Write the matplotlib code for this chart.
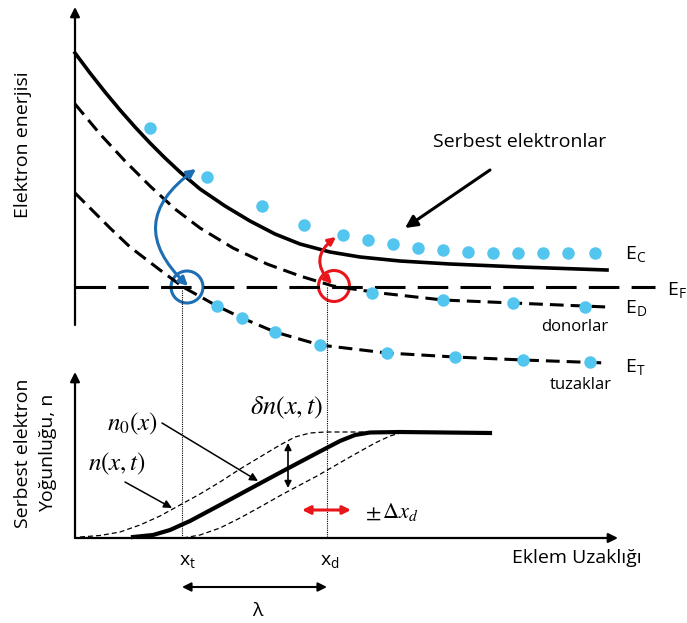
import matplotlib.pyplot as plt
from matplotlib.patches import Circle

# schematic drawn in picture space (x right, y down)
ec_x = [75, 90, 105, 120, 135, 150, 165, 180, 200, 225, 250, 275, 300, 330, 360, 400, 450, 520, 607]
ec_y = [53, 73, 92, 110, 127, 143, 158, 172, 189, 206, 221, 234, 244, 252, 257, 261, 264, 267, 270]
ed_x = [75, 100, 125, 150, 175, 200, 233, 267, 300, 333, 380, 443, 513, 607]
ed_y = [104, 134, 161, 186, 209, 228, 248, 264, 276, 286, 293, 300, 303, 307]
et_x = [75, 110, 130, 160, 183, 217, 242, 275, 320, 387, 455, 523, 607]
et_y = [193, 228, 247, 270, 287, 306, 318, 332, 345, 353, 357, 360, 363]
ef_x = [75, 655]
ef_y = [287, 287]

free_x = [150, 207, 262, 304, 343, 368, 393, 418, 443, 468, 493, 518, 543, 568, 595]
free_y = [128, 177, 206, 225, 235, 240, 244, 248, 250, 252, 253, 253, 253, 253, 253]
donor_x = [372, 443, 513, 585]
donor_y = [293, 300, 303, 307]
trap_x = [217, 242, 275, 320, 387, 455, 523, 590]
trap_y = [306, 318, 332, 345, 353, 357, 360, 362]

n0_x = [133, 153, 170, 190, 220, 257, 283, 317, 340, 355, 370, 400, 490]
n0_y = [537, 535, 530, 521, 505, 485, 471, 453, 441, 435, 432.5, 432, 433]
n_up_x = [80, 100, 120, 140, 160, 180, 200, 220, 240, 260, 280, 295, 310, 325, 383]
n_up_y = [537, 535.5, 532, 525, 516, 505, 494, 482, 469, 457, 445, 437, 433, 432, 432]
n_low_x = [183, 200, 220, 240, 260, 283, 317, 350, 375, 390, 400]
n_low_y = [538, 535, 528, 518, 507, 494, 476, 457, 443, 436, 433]

x_t, x_d = 182, 327

DOT = '#52C6EE'
BLUE = '#1E6EB4'
RED = '#E8161B'

plt.rcParams['font.family'] = ['Open Sans', 'DejaVu Sans']

fig = plt.figure(figsize=(6.87, 6.23), dpi=100)
ax = fig.add_axes([0, 0, 1, 1])
ax.set_xlim(0, 687)
ax.set_ylim(623, 0)
ax.axis('off')


def arrow(p0, p1, color='k', lw=1.5, style='-|>', scale=14, conn='arc3'):
    ax.annotate('', xy=p1, xytext=p0,
                arrowprops=dict(arrowstyle=style, lw=lw, color=color,
                                mutation_scale=scale, shrinkA=0, shrinkB=0,
                                connectionstyle=conn))


def curve(xs, ys, lw, dashes=None):
    line, = ax.plot(xs, ys, color='k', lw=lw, solid_joinstyle='round',
                    dash_joinstyle='round', dash_capstyle='butt')
    if dashes:
        line.set_dashes(dashes)


# ---- upper panel: energy bands
arrow((75, 325), (75, 7), lw=1.6)
curve(ef_x, ef_y, 2.2, (10, 4))
curve(ec_x, ec_y, 2.6)
curve(ed_x, ed_y, 2.2, (4.5, 2.3))
curve(et_x, et_y, 2.2, (4.5, 2.3))

ax.plot(free_x, free_y, 'o', color=DOT, ms=9, mec='none')
ax.plot(donor_x, donor_y, 'o', color=DOT, ms=9, mec='none')
ax.plot(trap_x, trap_y, 'o', color=DOT, ms=9, mec='none')

ax.add_patch(Circle((187, 287), 16, fill=False, ec=BLUE, lw=2.2))
ax.add_patch(Circle((334, 286), 15.5, fill=False, ec=RED, lw=2.2))
arrow((188, 286), (196, 169), color=BLUE, lw=2.2, style='<|-|>', scale=13,
      conn='arc3,rad=-0.6')
arrow((332, 284), (336, 237), color=RED, lw=2.2, style='<|-|>', scale=11,
      conn='arc3,rad=-0.55')

ax.text(520, 142, 'Serbest elektronlar', fontsize=14, ha='center', va='center')
arrow((490, 170), (405, 228), lw=2.2, scale=18)

ax.text(625, 255, r'E$_\mathregular{C}$', fontsize=14, ha='left', va='center')
ax.text(667, 291, r'E$_\mathregular{F}$', fontsize=14, ha='left', va='center')
ax.text(625, 309, r'E$_\mathregular{D}$', fontsize=14, ha='left', va='center')
ax.text(625, 368, r'E$_\mathregular{T}$', fontsize=14, ha='left', va='center')
ax.text(575, 327, 'donorlar', fontsize=12, ha='center', va='center')
ax.text(581, 385, 'tuzaklar', fontsize=12, ha='center', va='center')
ax.text(23, 145, 'Elektron enerjisi', fontsize=14, rotation=90,
        ha='center', va='center')

# ---- lower panel: free electron density
arrow((75, 538), (75, 372), lw=1.6)
arrow((75, 538), (618, 538), lw=1.6)
ax.plot([x_t, x_t], [290, 538], color='k', lw=0.8, dashes=(1, 1))
ax.plot([x_d, x_d], [287, 538], color='k', lw=0.8, dashes=(1, 1))

curve(n_up_x, n_up_y, 0.9, (4, 2.4))
curve(n_low_x, n_low_y, 0.9, (4, 2.4))
curve(n0_x, n0_y, 3)

arrow((288, 443), (288, 488), lw=1.2, style='<|-|>', scale=10)
arrow((302, 510), (351, 510), lw=2.2, color=RED, style='<|-|>', scale=12)
arrow((162, 423), (258, 481), lw=1.1, scale=12)
arrow((125, 482), (172, 508), lw=1.1, scale=12)

ax.text(287, 408, r'$\delta n(x,t)$', fontsize=19, math_fontfamily='stix',
        ha='center', va='center')
ax.text(132, 424, r'$n_0(x)$', fontsize=18, math_fontfamily='stix',
        ha='center', va='center')
ax.text(117, 464, r'$n(x,t)$', fontsize=18, math_fontfamily='stix',
        ha='center', va='center')
ax.text(365, 512, r'$\pm\,\Delta x_d$', fontsize=16, math_fontfamily='stix',
        ha='left', va='center')

ax.text(x_t + 5, 562, r'x$_\mathregular{t}$', fontsize=14, ha='center', va='center')
ax.text(x_d + 3, 562, r'x$_\mathregular{d}$', fontsize=14, ha='center', va='center')
arrow((x_t, 587), (x_d, 587), lw=1.5, style='<|-|>', scale=13)
ax.text(257, 611, 'λ', fontsize=14, ha='center', va='center')
ax.text(577, 558, 'Eklem Uzaklığı', fontsize=14, ha='center', va='center')
ax.text(23, 453, 'Serbest elektron', fontsize=14, rotation=90,
        ha='center', va='center')
ax.text(48, 453, 'Yoğunluğu, n', fontsize=14, rotation=90,
        ha='center', va='center')

fig.savefig('out.png', dpi=100)
